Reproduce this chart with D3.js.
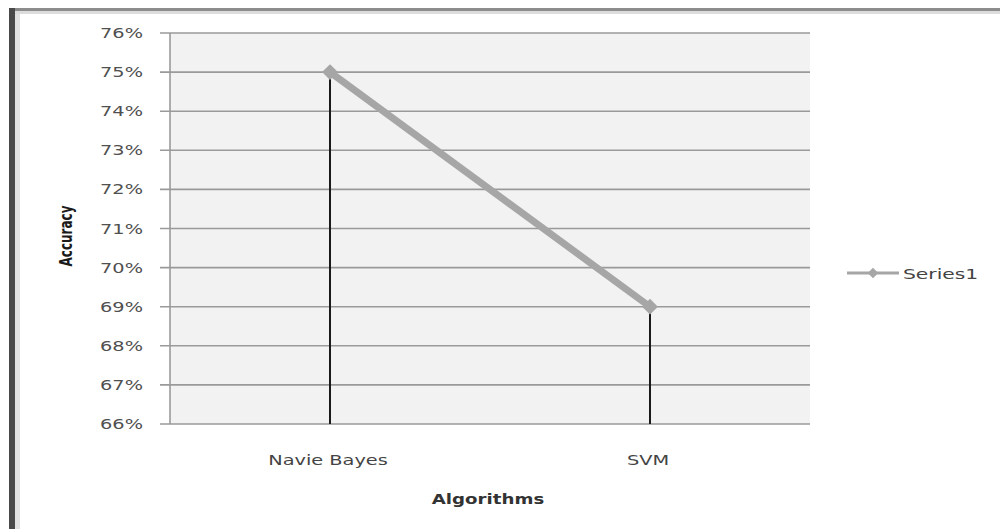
<!DOCTYPE html>
<html><head><meta charset="utf-8">
<script src="https://cdn.jsdelivr.net/npm/d3@7"></script>
<style>body{margin:0;background:#fff}svg{display:block}</style>
</head><body>
<svg id="c" width="1000" height="529"></svg>
<script>
const categories = ["Navie Bayes", "SVM"];
const seriesName = "Series1";
const values = [0.75, 0.69];
const yTicks = [0.66,0.67,0.68,0.69,0.70,0.71,0.72,0.73,0.74,0.75,0.76];

const svg = d3.select("#c");
const W = 1000, H = 529;
const m = {left:170, right:810, top:33, bottom:424};
const SX = 1.38;

// outer frame
svg.append("rect").attr("x",0).attr("y",0).attr("width",W).attr("height",H).attr("fill","#fff");
svg.append("rect").attr("x",10).attr("y",8).attr("width",990).attr("height",3).attr("fill","#8c8c8c");
svg.append("rect").attr("x",10).attr("y",11).attr("width",990).attr("height",3).attr("fill","#dcdcdc");
svg.append("rect").attr("x",9).attr("y",8).attr("width",6).attr("height",H).attr("fill","#4a4a4a");
svg.append("rect").attr("x",15).attr("y",14).attr("width",5).attr("height",H).attr("fill","#e2e2e2");

const x = d3.scaleBand().domain(categories).range([m.left, m.right]);
const y = d3.scaleLinear().domain([0.66,0.76]).range([m.bottom, m.top]);

svg.append("rect").attr("x",m.left).attr("y",m.top).attr("width",m.right-m.left).attr("height",m.bottom-m.top).attr("fill","#f2f2f2");

// gridlines
svg.append("g").selectAll("line").data(yTicks).join("line")
  .attr("x1",m.left-10).attr("x2",m.right)
  .attr("y1",d=>y(d)).attr("y2",d=>y(d))
  .attr("stroke","#9a9a9a").attr("stroke-width",1.6);
svg.append("line").attr("x1",m.left).attr("x2",m.left).attr("y1",m.top).attr("y2",m.bottom)
  .attr("stroke","#9a9a9a").attr("stroke-width",1.6);

// y tick labels
svg.append("g").selectAll("text").data(yTicks).join("text")
  .attr("transform",d=>`translate(143,${y(d)+5}) scale(${SX},1)`)
  .attr("text-anchor","end").attr("font-family","DejaVu Sans").attr("font-size",14)
  .attr("fill","#505050").text(d=>d3.format(".0%")(d));

// x labels
svg.append("g").selectAll("text").data(categories).join("text")
  .attr("transform",d=>`translate(${x(d)+x.bandwidth()/2 - 2},${465}) scale(${SX},1)`)
  .attr("text-anchor","middle").attr("font-family","DejaVu Sans").attr("font-size",14)
  .attr("fill","#444").text(d=>d);

// axis titles
svg.append("text").attr("transform",`translate(488,504) scale(1.3,1)`)
  .attr("text-anchor","middle").attr("font-family","DejaVu Sans").attr("font-weight","bold")
  .attr("font-size",14).attr("fill","#333").text("Algorithms");
svg.append("text").attr("transform",`translate(72,236) rotate(-90) scale(1,1.45)`)
  .attr("text-anchor","middle").attr("font-family","DejaVu Sans").attr("font-weight","bold")
  .attr("font-size",12).attr("fill","#1a1a1a").text("Accuracy");

const pts = categories.map((c,i)=>({c, v:values[i]}));
// drop lines
svg.append("g").selectAll("line").data(pts).join("line")
  .attr("x1",d=>x(d.c)+x.bandwidth()/2).attr("x2",d=>x(d.c)+x.bandwidth()/2)
  .attr("y1",d=>y(d.v)).attr("y2",m.bottom)
  .attr("stroke","#1a1a1a").attr("stroke-width",2);

// series line
svg.append("path").datum(pts)
  .attr("d", d3.line().x(d=>x(d.c)+x.bandwidth()/2).y(d=>y(d.v)))
  .attr("fill","none").attr("stroke","#a6a6a6").attr("stroke-width",7);
const diamond = d3.symbol().type(d3.symbolDiamond2).size(160);
svg.append("g").selectAll("path").data(pts).join("path")
  .attr("transform",d=>`translate(${x(d.c)+x.bandwidth()/2},${y(d.v)})`)
  .attr("d",diamond).attr("fill","#a6a6a6");

// legend
svg.append("line").attr("x1",847).attr("x2",899).attr("y1",273).attr("y2",273)
  .attr("stroke","#a6a6a6").attr("stroke-width",3);
svg.append("path").attr("transform","translate(873,273)").attr("d",d3.symbol().type(d3.symbolDiamond2).size(70)).attr("fill","#a6a6a6");
svg.append("text").attr("transform",`translate(903,279) scale(1.45,1)`)
  .attr("font-family","DejaVu Sans").attr("font-size",14).attr("fill","#444").text(seriesName);
</script>
</body></html>
